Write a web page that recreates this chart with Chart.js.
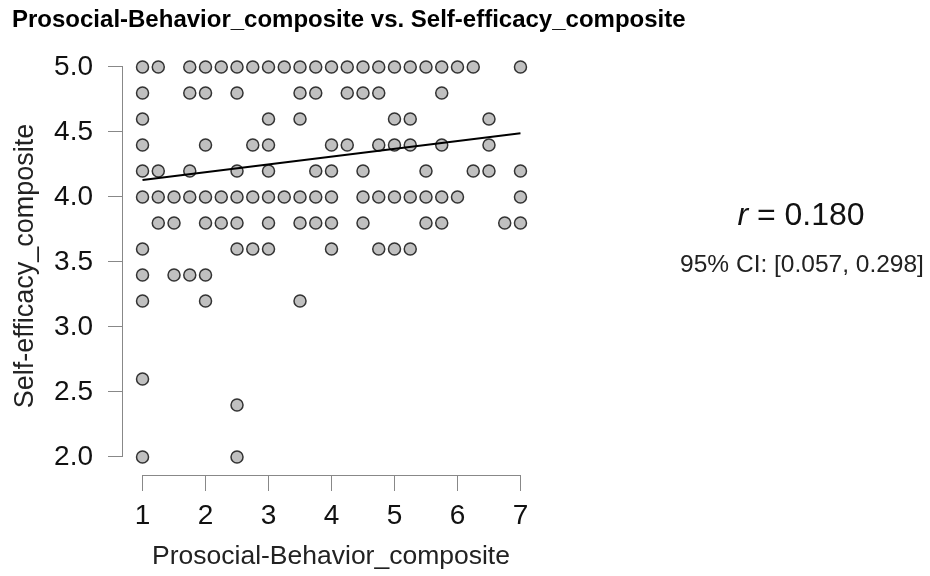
<!DOCTYPE html>
<html>
<head>
<meta charset="utf-8">
<title>Prosocial-Behavior vs. Self-efficacy</title>
<script src="https://cdn.jsdelivr.net/npm/chart.js@4.4.1/dist/chart.umd.min.js"></script>
<style>
  html, body { margin: 0; padding: 0; background: #fff; }
  canvas { display: block; }
</style>
</head>
<body>
<canvas id="myChart" width="930" height="576"></canvas>
<script>
// Self-efficacy levels (y) and the prosocial scores (x) observed at each level
var selfEfficacyLevels = [5.0, 4.8, 4.6, 4.4, 4.2, 4.0, 3.8, 3.6, 3.4, 3.2, 2.6, 2.4, 2.0];
var prosocialByLevel = [
  [1, 1.25, 1.75, 2, 2.25, 2.5, 2.75, 3, 3.25, 3.5, 3.75, 4, 4.25, 4.5, 4.75, 5, 5.25, 5.5, 5.75, 6, 6.25, 7],
  [1, 1.75, 2, 2.5, 3.5, 3.75, 4.25, 4.5, 4.75, 5.75],
  [1, 3, 3.5, 5, 5.25, 6.5],
  [1, 2, 2.75, 3, 4, 4.25, 4.75, 5, 5.25, 5.75, 6.5],
  [1, 1.25, 1.75, 2.5, 3, 3.75, 4, 4.5, 5.5, 6.25, 6.5, 7],
  [1, 1.25, 1.5, 1.75, 2, 2.25, 2.5, 2.75, 3, 3.25, 3.5, 3.75, 4, 4.5, 4.75, 5, 5.25, 5.5, 5.75, 6, 7],
  [1.25, 1.5, 2, 2.25, 2.5, 3, 3.5, 3.75, 4, 4.5, 5.5, 5.75, 6.75, 7],
  [1, 2.5, 2.75, 3, 4, 4.75, 5, 5.25],
  [1, 1.5, 1.75, 2],
  [1, 2, 3.5],
  [1],
  [2.5],
  [1, 2.5]
];

// regression line end points
var fitX = [1, 7];
var fitY = [4.13, 4.49];

var xTicks = [1, 2, 3, 4, 5, 6, 7];
var yTicks = [2.0, 2.5, 3.0, 3.5, 4.0, 4.5, 5.0];

var chartTitle = 'Prosocial-Behavior_composite vs. Self-efficacy_composite';
var rValue = "0.180";
var ciLower = "0.057";
var ciUpper = "0.298";

var FONT = "'Liberation Sans', Arial, sans-serif";

var points = [];
for (var i = 0; i < selfEfficacyLevels.length; i++) {
  for (var j = 0; j < prosocialByLevel[i].length; j++) {
    points.push({ x: prosocialByLevel[i][j], y: selfEfficacyLevels[i] });
  }
}
var fitLine = fitX.map(function (x, k) { return { x: x, y: fitY[k] }; });

// title across the top, axis lines spanning first..last tick, r / CI text on the right
var axesAndStats = {
  id: 'axesAndStats',
  afterDraw: function (chart) {
    var ctx = chart.ctx;
    var area = chart.chartArea;
    var xs = chart.scales.x, ys = chart.scales.y;
    ctx.save();

    ctx.fillStyle = '#000';
    ctx.textBaseline = 'middle';
    ctx.textAlign = 'left';
    ctx.font = 'bold 24px ' + FONT;
    ctx.fillText(chartTitle, 12, 20);

    ctx.strokeStyle = '#888';
    ctx.lineWidth = 1;
    ctx.beginPath();
    ctx.moveTo(area.left - 0.5, ys.getPixelForValue(yTicks[0]));
    ctx.lineTo(area.left - 0.5, ys.getPixelForValue(yTicks[yTicks.length - 1]));
    ctx.moveTo(xs.getPixelForValue(xTicks[0]), area.bottom + 0.5);
    ctx.lineTo(xs.getPixelForValue(xTicks[xTicks.length - 1]), area.bottom + 0.5);
    ctx.stroke();

    ctx.fillStyle = '#111';
    var rest = ' = ' + rValue;
    ctx.font = 'italic 32px ' + FONT;
    var wR = ctx.measureText('r').width;
    ctx.font = '32px ' + FONT;
    var wRest = ctx.measureText(rest).width;
    var x0 = 801 - (wR + wRest) / 2;
    ctx.font = 'italic 32px ' + FONT;
    ctx.fillText('r', x0, 216);
    ctx.font = '32px ' + FONT;
    ctx.fillText(rest, x0 + wR, 216);

    ctx.font = '24.5px ' + FONT;
    ctx.textAlign = 'center';
    ctx.fillStyle = '#222';
    ctx.fillText('95% CI: [' + ciLower + ', ' + ciUpper + ']', 802, 265);
    ctx.restore();
  }
};

var canvas = document.getElementById('myChart').getContext('2d');

var chart = new Chart(canvas, {
  type: 'scatter',
  data: {
    datasets: [
      {
        type: 'line',
        data: fitLine,
        borderColor: '#000',
        borderWidth: 2,
        pointRadius: 0,
        fill: false,
        order: 0
      },
      {
        data: points,
        backgroundColor: '#c0c0c0',
        borderColor: '#333',
        borderWidth: 1.5,
        pointRadius: 6,
        clip: false,
        order: 1
      }
    ]
  },
  options: {
    responsive: false,
    animation: false,
    layout: { padding: { left: 12, right: 391, top: 57, bottom: 0 } },
    plugins: {
      legend: { display: false },
      tooltip: { enabled: false },
      title: { display: false }
    },
    scales: {
      x: {
        type: 'linear',
        min: 0.69,
        max: 7.294,
        afterBuildTicks: function (s) { s.ticks = xTicks.map(function (v) { return { value: v }; }); },
        afterFit: function (s) { s.height = 101; },
        grid: { drawOnChartArea: false, drawTicks: true, tickLength: 16, color: '#888' },
        border: { display: false },
        ticks: {
          color: '#111',
          padding: 8,
          maxRotation: 0,
          font: { family: FONT, size: 28 },
          callback: function (v) { return String(v); }
        },
        title: {
          display: true,
          text: 'Prosocial-Behavior_composite',
          color: '#222',
          font: { family: FONT, size: 26.5 },
          padding: { top: 0, bottom: 3 }
        }
      },
      y: {
        type: 'linear',
        min: 1.8615,
        max: 5.0769,
        afterBuildTicks: function (s) { s.ticks = yTicks.map(function (v) { return { value: v }; }); },
        afterFit: function (s) { s.width = 111; },
        grid: { drawOnChartArea: false, drawTicks: true, tickLength: 15, color: '#888' },
        border: { display: false },
        ticks: {
          color: '#111',
          padding: 15,
          font: { family: FONT, size: 28 },
          callback: function (v) { return Number(v).toFixed(1); }
        },
        title: {
          display: true,
          text: 'Self-efficacy_composite',
          color: '#222',
          font: { family: FONT, size: 27, lineHeight: 1 },
          padding: { top: 0, bottom: 0 }
        }
      }
    }
  },
  plugins: [axesAndStats]
});
</script>
</body>
</html>
